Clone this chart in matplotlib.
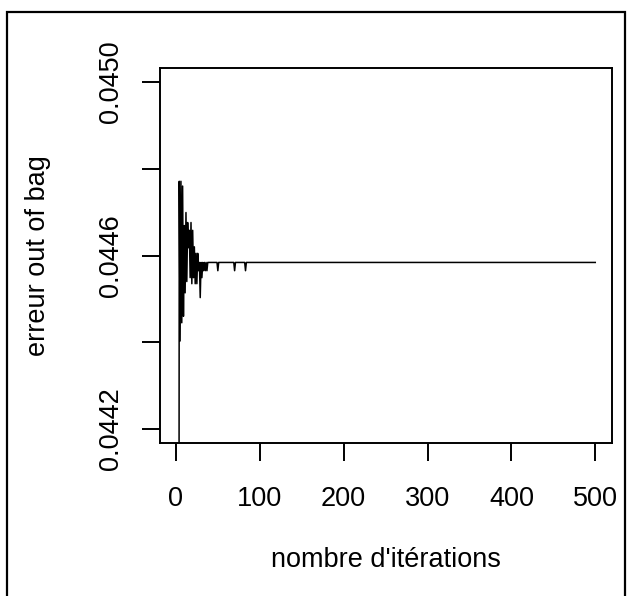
import matplotlib
matplotlib.use("Agg")
import matplotlib.pyplot as plt
from matplotlib.patches import Rectangle

plt.rcParams['font.family'] = ['Liberation Sans', 'DejaVu Sans']

# OOB error by number of trees (first trees fall below the window)
iterations = [1, 2, 3, 4, 5, 6, 7, 8, 9, 10, 11, 12, 13, 14, 15, 16, 17, 18, 19, 20,
              21, 22, 23, 24, 25, 26, 27, 28, 29, 30, 31, 32, 33, 34, 35, 36, 37, 38,
              49, 50, 51, 69, 70, 71, 82, 83, 84, 500]
oob_error = [0.0420, 0.0420, 0.0420, 0.044771, 0.044403, 0.044771, 0.044445, 0.044760,
             0.044460, 0.044669, 0.044514, 0.044699, 0.044540, 0.044676, 0.044618,
             0.044658, 0.044549, 0.044676, 0.044535, 0.044658, 0.044549, 0.044620,
             0.044535, 0.044605, 0.044535, 0.044605, 0.044565, 0.044584, 0.044503,
             0.044584, 0.044549, 0.044584, 0.044565, 0.044584, 0.044565, 0.044584,
             0.044565, 0.044584, 0.044584, 0.044565, 0.044584, 0.044584, 0.044565,
             0.044584, 0.044584, 0.044565, 0.044584, 0.044584]

xticks = [0, 100, 200, 300, 400, 500]
yticks = [0.0442, 0.0444, 0.0446, 0.0448, 0.0450]
ytick_labels = ['0.0442', '', '0.0446', '', '0.0450']

fig = plt.figure(figsize=(6.37, 5.96), dpi=100)
ax = fig.add_axes([160/637, 1-443/596, 452/637, 375/596])

ax.plot(iterations, oob_error, color='black', lw=1.1)

# R style: 4% padding around explicit limits
ax.set_xlim(1 - 0.04*499, 500 + 0.04*499)
ax.set_ylim(0.0442 - 0.04*0.0008, 0.0450 + 0.04*0.0008)

ax.set_xticks(xticks)
ax.set_xticklabels([str(t) for t in xticks])
ax.set_yticks(yticks)
ax.set_yticklabels(ytick_labels, rotation=90, va='center')

for s in ax.spines.values():
    s.set_linewidth(1.4)
ax.tick_params(axis='both', length=13, width=1.4, labelsize=19.5, direction='out')
ax.tick_params(axis='x', pad=18)
ax.tick_params(axis='y', pad=13)

fig.text(38/637, 1-255.5/596, "erreur out of bag", rotation=90,
         ha='center', va='center', fontsize=19.5)
fig.text(386/637, 1-560/596, "nombre d'itérations",
         ha='center', va='center', fontsize=19.5)

# outer frame of the original image
fig.patches.append(Rectangle((7/637, -0.05), 618/637, 1.05 - 12/596,
                             transform=fig.transFigure, fill=False,
                             edgecolor='black', lw=1.6))

fig.savefig("out.png", dpi=100)
